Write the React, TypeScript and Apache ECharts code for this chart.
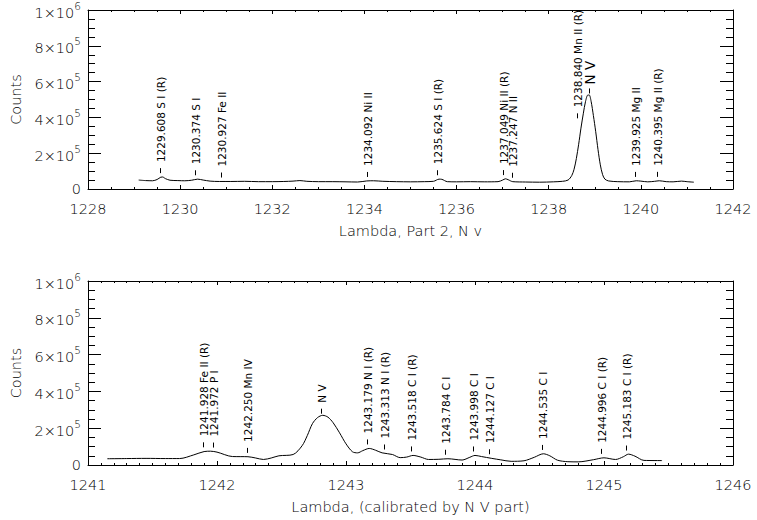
import React, { useEffect, useRef } from "react";
import * as echarts from "echarts";

// ---- Spectrum, part 2 (uncalibrated), N V region ----
const TOP_LAMBDA = [
  1229.1, 1229.25, 1229.4, 1229.5, 1229.58, 1229.62, 1229.68, 1229.78, 1229.95, 1230.1,
  1230.25, 1230.38, 1230.5, 1230.65, 1230.85, 1231.1, 1231.4, 1231.7, 1232.0, 1232.25,
  1232.45, 1232.6, 1232.75, 1233.0, 1233.3, 1233.6, 1233.85, 1234.05, 1234.2, 1234.4,
  1234.7, 1235.0, 1235.3, 1235.5, 1235.62, 1235.68, 1235.8, 1236.0, 1236.3, 1236.6,
  1236.9, 1237.0, 1237.06, 1237.12, 1237.22, 1237.5, 1237.8, 1238.1, 1238.3, 1238.42,
  1238.5, 1238.55, 1238.6, 1238.65, 1238.7, 1238.75, 1238.8, 1238.85, 1238.88, 1238.92,
  1238.97, 1239.02, 1239.07, 1239.12, 1239.17, 1239.22, 1239.3, 1239.5, 1239.75, 1239.9,
  1240.0, 1240.15, 1240.3, 1240.4, 1240.55, 1240.7, 1240.88, 1241.0, 1241.15,
];
const TOP_COUNTS = [
  50000, 47000, 46000, 53000, 66000, 67000, 58000, 49000, 47000, 46000,
  49000, 55000, 50000, 44000, 42000, 42000, 43000, 41000, 41000, 42000,
  44000, 47000, 43000, 41000, 41000, 40000, 39000, 45000, 46000, 43000,
  41000, 40000, 41000, 43000, 55000, 54000, 41000, 40000, 41000, 40000,
  41000, 50000, 57000, 52000, 41000, 39000, 38000, 40000, 43000, 50000,
  75000, 110000, 170000, 250000, 340000, 420000, 490000, 525000, 525000, 490000,
  410000, 320000, 220000, 135000, 80000, 55000, 45000, 41000, 40000, 46000,
  44000, 40000, 43000, 46000, 41000, 40000, 44000, 41000, 38000,
];

// ---- Spectrum calibrated by the N V part ----
const BOTTOM_LAMBDA = [
  1241.15, 1241.3, 1241.45, 1241.6, 1241.71, 1241.82, 1241.9, 1241.95, 1242.0, 1242.12,
  1242.24, 1242.3, 1242.36, 1242.42, 1242.48, 1242.59, 1242.66, 1242.7, 1242.74, 1242.78,
  1242.82, 1242.86, 1242.9, 1242.95, 1243.0, 1243.05, 1243.09, 1243.13, 1243.18, 1243.23,
  1243.28, 1243.36, 1243.42, 1243.47, 1243.52, 1243.58, 1243.64, 1243.72, 1243.79, 1243.9,
  1243.96, 1244.0, 1244.05, 1244.13, 1244.2, 1244.28, 1244.38, 1244.46, 1244.53, 1244.58,
  1244.64, 1244.72, 1244.8, 1244.92, 1245.0, 1245.09, 1245.15, 1245.19, 1245.24, 1245.31,
  1245.45,
];
const BOTTOM_COUNTS = [
  34000, 35000, 36000, 35000, 35000, 55000, 73000, 75000, 70000, 46000,
  45000, 38000, 30000, 38000, 50000, 57000, 105000, 160000, 225000, 258000,
  270000, 260000, 230000, 175000, 115000, 72000, 66000, 78000, 90000, 80000,
  66000, 57000, 40000, 43000, 52000, 43000, 30000, 31000, 34000, 27000,
  42000, 52000, 46000, 36000, 28000, 20000, 23000, 42000, 61000, 50000,
  26000, 18000, 17000, 29000, 39000, 30000, 45000, 59000, 48000, 25000,
  24000,
];

// ---- Line identifications ----
const TOP_LINES = [1229.608, 1230.374, 1230.927, 1234.092, 1235.624, 1237.049, 1237.247, 1238.84, 1239.925, 1240.395];
const TOP_LINE_NAMES = [
  "1229.608 S I (R)", "1230.374 S I", "1230.927 Fe II", "1234.092 Ni II", "1235.624 S I (R)",
  "1237.049 Ni II (R)", "1237.247 N II", "1238.840 Mn II (R)", "1239.925 Mg II", "1240.395 Mg II (R)",
];
const BOTTOM_LINES = [1241.928, 1241.972, 1242.25, 1243.179, 1243.313, 1243.518, 1243.784, 1243.998, 1244.127, 1244.535, 1244.996, 1245.183];
const BOTTOM_LINE_NAMES = [
  "1241.928 Fe II (R)", "1241.972 P I", "1242.250 Mn IV", "1243.179 N I (R)", "1243.313 N I (R)",
  "1243.518 C I (R)", "1243.784 C I", "1243.998 C I", "1244.127 C I", "1244.535 C I",
  "1244.996 C I (R)", "1245.183 C I (R)",
];
const MAIN_LINE = "N V";

const TOP_X_TITLE = "Lambda, Part 2, N v";
const BOTTOM_X_TITLE = "Lambda, (calibrated by N V part)";
const Y_TITLE = "Counts";

// pixel nudges (dx, dy) that keep crowded labels apart
const LABEL_NUDGE: Record<string, [number, number]> = {
  "1238.840 Mn II (R)": [-8, 26],
  "1241.928 Fe II (R)": [-3, 0],
  "1241.972 P I": [2, 0],
};
const MAIN_NUDGE_BIG: [number, number] = [3, 0];

const FONT = "DejaVu Sans";
const AXIS_WEIGHT = 200; // thin strokes for the axis lettering
const INK = "#000";

function interp(xs: number[], ys: number[], x: number): number {
  if (x <= xs[0]) return ys[0];
  for (let i = 1; i < xs.length; i++) {
    if (x <= xs[i]) {
      const t = (x - xs[i - 1]) / (xs[i] - xs[i - 1]);
      return ys[i - 1] + t * (ys[i] - ys[i - 1]);
    }
  }
  return ys[ys.length - 1];
}

function peakLambda(xs: number[], ys: number[]): number {
  let k = 0;
  ys.forEach((v, i) => { if (v > ys[k]) k = i; });
  return xs[k];
}

const LIFT = 22000; // counts between the spectrum and a marker tick

function buildMarks(xs: number[], ys: number[], lines: number[], names: string[], bigMain: boolean) {
  const items = lines.map((l, i) => ({
    value: [l, interp(xs, ys, l) + LIFT],
    name: names[i],
    big: false,
  }));
  const pk = peakLambda(xs, ys);
  items.push({ value: [pk, interp(xs, ys, pk) + LIFT * 0.4], name: MAIN_LINE, big: bigMain });
  return items;
}

function sci(v: number): string {
  if (v === 0) return "0";
  const e = Math.floor(Math.log10(v) + 1e-9);
  const m = Math.round(v / Math.pow(10, e));
  return `{m|${m}×10}{s|${e}}`;
}

function panel(idx: number, xmin: number, xmax: number, xint: number, xminor: number, title: string) {
  const base = {
    gridIndex: idx,
    type: "value" as const,
    min: xmin,
    max: xmax,
    interval: xint,
    axisLine: { show: true, onZero: false, lineStyle: { color: INK, width: 1 } },
    splitLine: { show: false },
  };
  const xBottom = {
    ...base,
    position: "bottom",
    name: title,
    nameLocation: "middle",
    nameGap: 34,
    nameTextStyle: { fontFamily: FONT, fontWeight: AXIS_WEIGHT, fontSize: 14.5, color: INK },
    axisTick: { show: true, inside: true, length: 4, lineStyle: { color: INK } },
    minorTick: { show: true, splitNumber: xminor, length: 2, lineStyle: { color: INK } },
    axisLabel: {
      show: true, margin: 12, fontFamily: FONT, fontWeight: AXIS_WEIGHT, fontSize: 14.5, color: INK,
      formatter: (v: number) => String(v),
    },
  };
  const xTop = {
    ...base,
    position: "top",
    axisTick: { show: true, inside: true, length: 4, lineStyle: { color: INK } },
    minorTick: { show: true, splitNumber: xminor, length: 2, lineStyle: { color: INK } },
    axisLabel: { show: false },
  };
  const ybase = {
    gridIndex: idx,
    type: "value" as const,
    min: 0,
    max: 1000000,
    interval: 200000,
    axisLine: { show: true, onZero: false, lineStyle: { color: INK, width: 1 } },
    splitLine: { show: false },
    axisTick: { show: true, inside: true, length: 13, lineStyle: { color: INK } },
    minorTick: { show: true, splitNumber: 4, length: 7, lineStyle: { color: INK } },
  };
  const yLeft = {
    ...ybase,
    position: "left",
    name: Y_TITLE,
    nameLocation: "middle",
    nameGap: 65,
    nameRotate: 90,
    nameTextStyle: { fontFamily: FONT, fontWeight: AXIS_WEIGHT, fontSize: 14.5, color: INK },
    axisLabel: {
      show: true,
      margin: 7,
      formatter: sci,
      fontFamily: FONT,
      fontWeight: AXIS_WEIGHT,
      fontSize: 14.5,
      color: INK,
      rich: {
        m: { fontFamily: FONT, fontWeight: AXIS_WEIGHT, fontSize: 14.5, color: INK, lineHeight: 20, verticalAlign: "bottom" },
        s: { fontFamily: FONT, fontWeight: AXIS_WEIGHT, fontSize: 10.5, color: INK, lineHeight: 10, verticalAlign: "top" },
      },
    },
  };
  const yRight = { ...ybase, position: "right", axisLabel: { show: false } };
  return { xs: [xBottom, xTop], ys: [yLeft, yRight] };
}

function markSeries(xAxisIndex: number, yAxisIndex: number, marks: any[]) {
  return {
    type: "custom",
    xAxisIndex,
    yAxisIndex,
    clip: false,
    z: 5,
    data: marks.map((m) => ({ value: m.value, name: m.name })),
    renderItem: (params: any, api: any) => {
      const m = marks[params.dataIndex];
      const p = api.coord([api.value(0), api.value(1)]);
      const nudge = m.big ? MAIN_NUDGE_BIG : LABEL_NUDGE[m.name] || [0, 0];
      const x = Math.round(p[0] - 2 + nudge[0]) + 0.5;
      const yb = p[1] + nudge[1];
      const tick = 5;
      const fs = m.big ? 13.5 : 10.5;
      return {
        type: "group",
        children: [
          {
            type: "line",
            shape: { x1: x, y1: yb, x2: x, y2: yb - tick },
            style: { stroke: INK, lineWidth: 1 },
          },
          {
            type: "text",
            x: x,
            y: yb - tick - (m.big ? 4 : 6),
            rotation: Math.PI / 2,
            style: {
              text: m.name,
              fontFamily: FONT,
              fontWeight: "normal",
              fontSize: fs,
              fill: INK,
              align: "left",
              verticalAlign: "middle",
              textAlign: "left",
              textVerticalAlign: "middle",
            },
          },
        ],
      };
    },
  };
}

export default function App() {
  const ref = useRef<HTMLDivElement>(null);
  useEffect(() => {
    if (!ref.current) return;
    const chart = echarts.init(ref.current, undefined, { renderer: "svg" });
    const top = panel(0, 1228, 1242, 2, 4, TOP_X_TITLE);
    const bot = panel(1, 1241, 1246, 1, 10, BOTTOM_X_TITLE);
    const topMarks = buildMarks(TOP_LAMBDA, TOP_COUNTS, TOP_LINES, TOP_LINE_NAMES, true);
    const botMarks = buildMarks(BOTTOM_LAMBDA, BOTTOM_COUNTS, BOTTOM_LINES, BOTTOM_LINE_NAMES, false);
    chart.setOption({
      animation: false,
      backgroundColor: "#fff",
      grid: [
        { left: 84, top: 5, width: 649, height: 184 },
        { left: 84, top: 281, width: 649, height: 184 },
      ],
      xAxis: [...top.xs, ...bot.xs],
      yAxis: [...top.ys, ...bot.ys],
      series: [
        {
          type: "line",
          xAxisIndex: 0,
          yAxisIndex: 0,
          data: TOP_LAMBDA.map((l, i) => [l, TOP_COUNTS[i]]),
          showSymbol: false,
          smooth: 0.3,
          lineStyle: { color: INK, width: 1 },
        },
        {
          type: "line",
          xAxisIndex: 2,
          yAxisIndex: 2,
          data: BOTTOM_LAMBDA.map((l, i) => [l, BOTTOM_COUNTS[i]]),
          showSymbol: false,
          smooth: 0.3,
          lineStyle: { color: INK, width: 1 },
        },
        markSeries(0, 0, topMarks),
        markSeries(2, 2, botMarks),
      ],
    });
    return () => chart.dispose();
  }, []);
  return <div ref={ref} style={{ position: "absolute", left: 0, top: 0, width: 757, height: 520 }} />;
}
